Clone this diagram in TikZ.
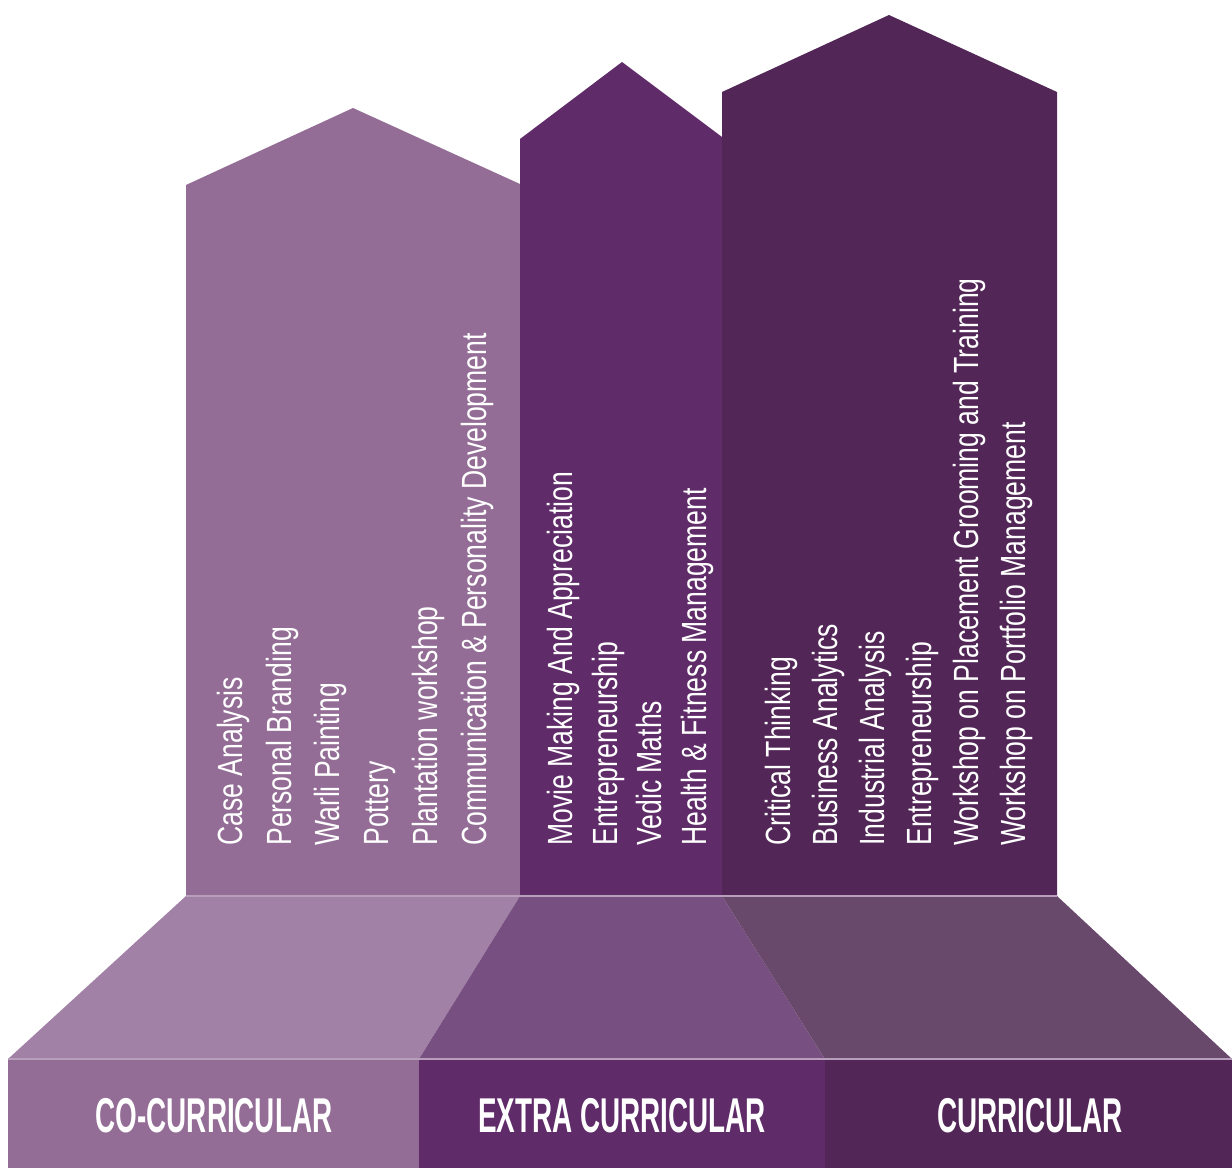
\documentclass[tikz,border=0pt]{standalone}
\usepackage{fontspec}
\setmainfont{Liberation Sans}
\newfontfamily\itemfont[FakeStretch=0.76]{Liberation Sans}
\newfontfamily\headfont[FakeStretch=0.57]{Liberation Sans}

\definecolor{cocol}{HTML}{936D96}
\definecolor{cotrap}{HTML}{A281A7}
\definecolor{excol}{HTML}{5F2B69}
\definecolor{extrap}{HTML}{774F80}
\definecolor{cucol}{HTML}{522657}
\definecolor{cutrap}{HTML}{69496B}
\definecolor{rim}{HTML}{B79EBA}

\tikzset{
    item/.style = {rotate = 90, anchor = base west, inner sep = 0pt, text = white,
        font = \itemfont\fontsize{19.9}{24}\selectfont},
    headtext/.style = {anchor = center, inner sep = 0pt, text = white,
        font = \headfont\bfseries\fontsize{27.8}{32}\selectfont},
}

\begin{document}
\begin{tikzpicture}[x = 0.2mm, y = -0.2mm]
        \useasboundingbox (0, 0) rectangle (1232, 1168);

        \fill [cocol] (186, 896) -- (186, 185) -- (353, 108) -- (520, 184) -- (520, 896) -- cycle;
        \fill [excol] (520, 896) -- (520, 139) -- (622, 62) -- (722, 137) -- (722, 896) -- cycle;
        \fill [cucol] (722, 896) -- (722, 92) -- (889, 15) -- (1057, 92) -- (1057, 896) -- cycle;

        \fill [cotrap] (186, 896) -- (520, 896) -- (419, 1059) -- (8, 1059) -- cycle;
        \fill [extrap] (520, 896) -- (722, 896) -- (825, 1059) -- (419, 1059) -- cycle;
        \fill [cutrap] (722, 896) -- (1057, 896) -- (1232, 1059) -- (825, 1059) -- cycle;

        \fill [cocol] (8, 1059) rectangle (419, 1168);
        \fill [excol] (419, 1059) rectangle (825, 1168);
        \fill [cucol] (825, 1059) rectangle (1232, 1168);

        \draw [rim, line width = 0.25mm] (186, 896) -- (1057, 896);
        \draw [rim, line width = 0.25mm] (8, 1059) -- (1232, 1059);

        \node [item] (co1) at (242, 846) {Case Analysis};
        \node [item] (co2) at (291, 846) {Personal Branding};
        \node [item] (co3) at (339, 846) {Warli Painting};
        \node [item] (co4) at (388, 846) {Pottery};
        \node [item] (co5) at (437, 846) {Plantation workshop};
        \node [item] (co6) at (486, 846) {Communication \& Personality Development};

        \node [item] (ex1) at (572, 846) {Movie Making And Appreciation};
        \node [item] (ex2) at (617, 846) {Entrepreneurship};
        \node [item] (ex3) at (661, 846) {Vedic Maths};
        \node [item] (ex4) at (706, 846) {Health \& Fitness Management};

        \node [item] (cu1) at (790, 846) {Critical Thinking};
        \node [item] (cu2) at (837, 846) {Business Analytics};
        \node [item] (cu3) at (884, 846) {Industrial Analysis};
        \node [item] (cu4) at (931, 846) {Entrepreneurship};
        \node [item] (cu5) at (978, 846) {Workshop on Placement Grooming and Training};
        \node [item] (cu6) at (1025, 846) {Workshop on Portfolio Management};

        \node [headtext] (cohead) at (214, 1116) {CO-CURRICULAR};
        \node [headtext] (exhead) at (622, 1116) {EXTRA CURRICULAR};
        \node [headtext] (cuhead) at (1030, 1116) {CURRICULAR};
    \end{tikzpicture}
\end{document}
